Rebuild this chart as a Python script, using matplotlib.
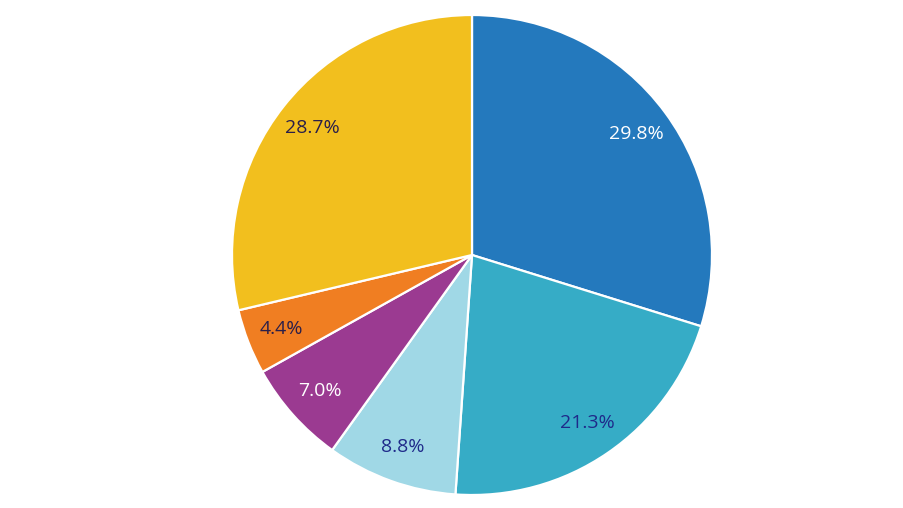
import matplotlib.pyplot as plt

plt.rcParams['font.family'] = ['Open Sans', 'DejaVu Sans']

values = [29.8, 21.3, 8.8, 7.0, 4.4, 28.7]
colors = ['#2479bd', '#36acc6', '#a0d8e6', '#9b3a91', '#f07e22', '#f2bf1e']
text_colors = ['white', '#1f2a8a', '#1f2a8a', 'white', '#2a1f4a', '#2a1f4a']

fig = plt.figure(figsize=(9.04, 5.08), dpi=100)
ax = fig.add_axes([232 / 904, 13 / 508, 480 / 904, 480 / 508])

wedges, texts, autotexts = ax.pie(
    values, colors=colors, startangle=90, counterclock=False,
    autopct='%.1f%%', pctdistance=0.85, radius=1,
    wedgeprops=dict(edgecolor='white', linewidth=1.6),
    textprops=dict(fontsize=14))
for t, c in zip(autotexts, text_colors):
    t.set_color(c)

ax.set_xlim(-1, 1)
ax.set_ylim(-1, 1)
ax.set_aspect('equal')
ax.axis('off')

fig.savefig('out.png', dpi=100)
